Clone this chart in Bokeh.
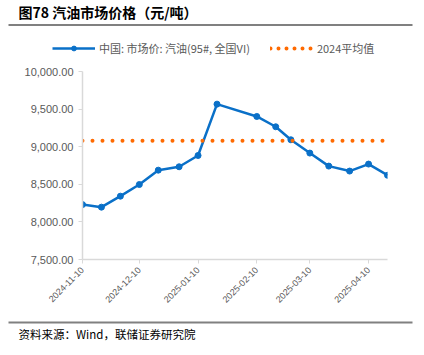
import pandas as pd
from bokeh.plotting import figure
from bokeh.models import (Label, BoxAnnotation, Legend, LegendItem, FixedTicker,
                          DatetimeTickFormatter, NumeralTickFormatter, Range1d)
from bokeh.embed import file_html
from bokeh.resources import INLINE

dates = ["2024-11-10", "2024-11-20", "2024-11-30", "2024-12-10", "2024-12-20",
         "2024-12-31", "2025-01-10", "2025-01-20", "2025-02-10", "2025-02-20",
         "2025-02-28", "2025-03-10", "2025-03-20", "2025-03-31", "2025-04-10",
         "2025-04-20"]
prices = [8230, 8196, 8342, 8497, 8688, 8733, 8883, 9566, 9402, 9265,
          9092, 8915, 8742, 8676, 8769, 8620]
avg_2024 = 9080
tick_dates = ["2024-11-10", "2024-12-10", "2025-01-10", "2025-02-10",
              "2025-03-10", "2025-04-10"]
y_ticks = [7500, 8000, 8500, 9000, 9500, 10000]
series_name = "中国: 市场价: 汽油(95#, 全国VI)"
avg_name = "2024平均值"
title_text = "图78 汽油市场价格（元/吨）"
source_text = "资料来源：Wind，联储证券研究院"

x = pd.to_datetime(dates)
xt = [pd.Timestamp(d).value / 1e6 for d in tick_dates]

BLUE = "#0A70C8"
ORANGE = "#FF6A00"
GRAY = "#595959"
RULE = "#808080"


def blank(h):
    f = figure(width=424, height=h, output_backend="svg", toolbar_location=None,
               x_axis_location=None, y_axis_location=None, min_border=0,
               x_range=Range1d(0, 1), y_range=Range1d(0, 1))
    f.outline_line_color = None
    f.xgrid.visible = False
    f.ygrid.visible = False
    return f


def rule(f, top):
    f.add_layout(BoxAnnotation(left=8, right=412, top=top, bottom=top - 2,
                               left_units="screen", right_units="screen",
                               top_units="screen", bottom_units="screen",
                               fill_color=RULE, fill_alpha=1, line_color=None))


# ---- header: title, rule, legend
head = blank(62)
head.add_layout(Label(x=18, y=51, x_units="screen", y_units="screen", text=title_text,
                      text_font="Noto Sans CJK SC", text_font_style="bold",
                      text_font_size="14px", text_baseline="middle",
                      text_color="#000000"))
rule(head, 38.5)
# legend proxies: same data, lying outside this header's ranges (not visible)
hl1 = head.line(x, prices, line_color=BLUE, line_width=2.5)
hs1 = head.scatter(x, prices, size=6, fill_color=BLUE, line_color=BLUE)
hl2 = head.line([x[0], x[-1]], [avg_2024, avg_2024], line_color=ORANGE,
                line_width=4, line_dash="0 8", line_cap="round")
legend = Legend(items=[LegendItem(label=series_name, renderers=[hl1, hs1]),
                       LegendItem(label=avg_name, renderers=[hl2])],
                orientation="horizontal", location=(52, 6),
                padding=0, margin=0, spacing=20, glyph_width=43, glyph_height=12,
                label_height=12, label_standoff=4, border_line_color=None,
                background_fill_alpha=0, label_text_font="Noto Sans CJK SC",
                label_text_font_size="11px", label_text_color=GRAY)
head.add_layout(legend, "center")

# ---- chart
p = figure(width=424, height=248, x_axis_type="datetime", output_backend="svg",
           toolbar_location=None, min_border_left=82, min_border_right=37,
           min_border_top=9, min_border_bottom=51,
           x_range=Range1d(x[0], x[-1]), y_range=Range1d(7500, 10000))
p.outline_line_color = None
p.xgrid.visible = False
p.ygrid.visible = False

p.line(x, prices, line_color=BLUE, line_width=2.5)
p.scatter(x, prices, size=6, fill_color=BLUE, line_color=BLUE)
p.line([x[0], x[-1]], [avg_2024, avg_2024], line_color=ORANGE, line_width=4,
       line_dash="0 10", line_cap="round")

for ax in (p.xaxis[0], p.yaxis[0]):
    ax.axis_line_color = "#D9D9D9"
    ax.axis_line_width = 1.5
    ax.major_tick_line_color = "#D9D9D9"
    ax.major_tick_out = 4
    ax.major_tick_in = 0
    ax.minor_tick_line_color = None
    ax.major_label_text_color = GRAY
    ax.major_label_text_font = "Liberation Sans"

p.yaxis[0].ticker = FixedTicker(ticks=y_ticks)
p.yaxis[0].formatter = NumeralTickFormatter(format="0,0.00")
p.yaxis[0].major_label_text_font_size = "11px"
p.xaxis[0].ticker = FixedTicker(ticks=xt)
p.xaxis[0].formatter = DatetimeTickFormatter(days="%Y-%m-%d", months="%Y-%m-%d")
p.xaxis[0].major_label_orientation = 0.785
p.xaxis[0].major_label_text_font_size = "9px"

# ---- footer
foot = blank(45)
rule(foot, 34)
foot.add_layout(Label(x=18, y=22, x_units="screen", y_units="screen", text=source_text,
                      text_font="Noto Sans CJK SC", text_font_size="11.5px",
                      text_baseline="middle", text_color="#000000"))

open("out.html", "w").write(file_html([head, p, foot], INLINE))
